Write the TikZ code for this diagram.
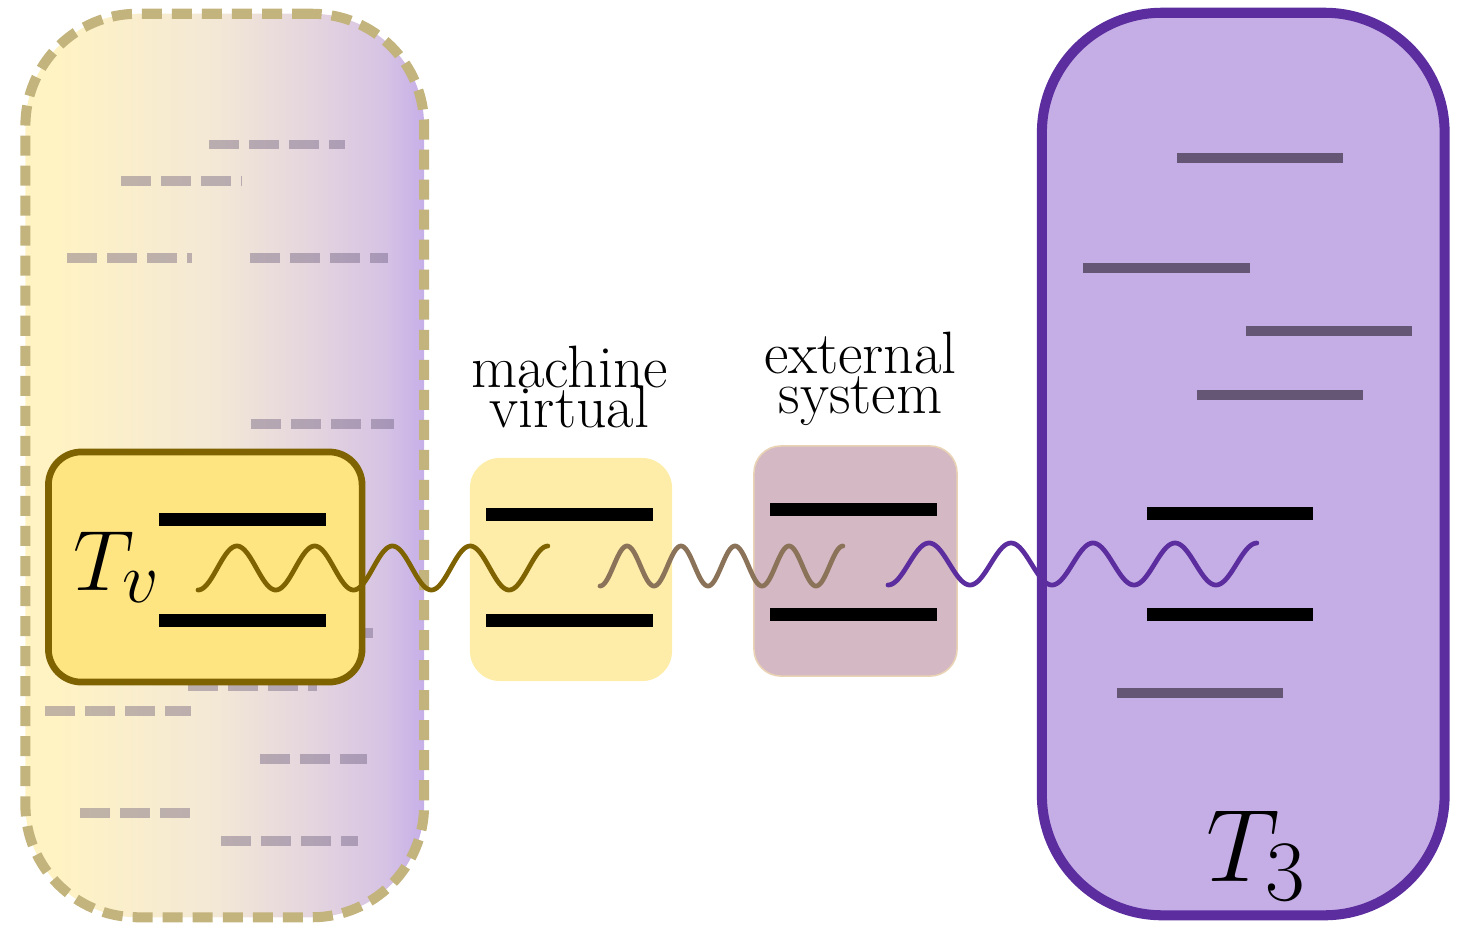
\documentclass[tikz,border=0pt]{standalone}
\usepackage{graphicx}
\definecolor{gA}{HTML}{FFF3C4}
\definecolor{gB}{HTML}{F3E8D6}
\definecolor{gC}{HTML}{E3D3DF}
\definecolor{gD}{HTML}{D6C3E4}
\definecolor{gE}{HTML}{C6AFE8}
\definecolor{khaki}{HTML}{C3B37D}
\definecolor{lineC}{HTML}{655676}
\definecolor{olive}{HTML}{7F6300}
\definecolor{tvfill}{HTML}{FEE582}
\definecolor{mvfill}{HTML}{FEEDA8}
\definecolor{esfill}{HTML}{D4B8C4}
\definecolor{esrim}{HTML}{E9D3B4}
\definecolor{tfill}{HTML}{C5AEE6}
\definecolor{tdraw}{HTML}{5B2D9E}
\definecolor{brownw}{HTML}{8B735A}
\pgfdeclarehorizontalshading{leftgrad}{100bp}{color(0bp)=(gA); color(29bp)=(gA); color(49bp)=(gB); color(62bp)=(gC); color(70bp)=(gD); color(75bp)=(gE); color(100bp)=(gE)}
\newcommand{\lstrut}{\rule{0pt}{12.4pt}}
\tikzset{
  greydash/.style={draw=lineC, draw opacity=0.4, line width=2.6pt, dash pattern=on 8.54pt off 2.85pt},
  tline/.style={draw=lineC, line width=2.85pt},
  bar/.style={draw=black, line width=3.7pt},
  wave/.style={line width=1.35pt, line cap=round},
  lbl/.style={inner sep=0pt, anchor=north, align=center, font=\fontsize{17}{0}\selectfont},
  tlbl/.style={inner sep=0pt, anchor=base west, font=\fontsize{24.88}{30}\selectfont},
  box/.style={rectangle, inner sep=0pt, outer sep=0pt}
}
\begin{document}
\begin{tikzpicture}[x=0.01cm, y=-0.01cm]
\useasboundingbox (0,0) rectangle (1467,933);

% left big box
\node[box, shade, shading=leftgrad, draw=khaki, line width=2.85pt,
      dash pattern=on 5.69pt off 2.85pt, rounded corners=1.12cm,
      minimum width=3.985cm, minimum height=9.03cm] (lbox) at (224.75,465.5) {};
\foreach \y/\a/\b in {144.5/209/345, 181/121/242, 258/67/192, 258/250/388,
                      424/251/394, 633/233/373, 686/188/317, 711/45/191,
                      759/260/367, 813/80/190, 841/221/358}
  \draw[greydash] (\a,\y) -- (\b,\y);

% Tv box
\node[box, fill=tvfill, draw=olive, line width=1.9pt, rounded corners=0.33cm,
      minimum width=3.135cm, minimum height=2.30cm] (tvbox) at (205.25,567) {};
\node[tlbl] (tv) at (73,590) {\scalebox{0.98}{$T_v$}};
\draw[bar] (159,519) -- (326,519);
\draw[bar] (159,620) -- (326,620);

% machine virtual box
\node[box, fill=mvfill, rounded corners=0.3cm,
      minimum width=2.02cm, minimum height=2.23cm] (mvbox) at (571,569.5) {};
\draw[bar] (486,514) -- (653,514);
\draw[bar] (486,620) -- (653,620);
\node[lbl] (mv) at (569.5,343.4) {\lstrut machine\\[-2.3pt]\lstrut virtual};

% external system box
\node[box, fill=esfill, draw=esrim, line width=0.45pt, rounded corners=0.27cm,
      minimum width=2.03cm, minimum height=2.30cm] (esbox) at (855.5,561) {};
\draw[bar] (770,509) -- (937,509);
\draw[bar] (770,614) -- (937,614);
\node[lbl] (es) at (860.5,329.4) {\lstrut external\\[-2.3pt]\lstrut system};

% T3 box
\node[box, fill=tfill, draw=tdraw, line width=2.85pt, rounded corners=1.2cm,
      minimum width=4.025cm, minimum height=9.02cm] (tbox) at (1243.25,464) {};
\foreach \y/\a/\b in {158/1177/1343, 268/1083/1250, 331/1246/1412,
                      395/1197/1363, 693/1117/1283}
  \draw[tline] (\a,\y) -- (\b,\y);
\draw[bar] (1147,513) -- (1313,513);
\draw[bar] (1147,614) -- (1313,614);
\node[tlbl] (t3) at (1206,881) {\scalebox{1.18}{$T_3$}};

% waves
\draw[wave, draw=olive] plot[domain=0:4.5, samples=220, smooth]
  ({198+77.78*\x},{568+22*cos(360*\x)});
\draw[wave, draw=brownw] plot[domain=0:4.5, samples=220, smooth]
  ({600+54*\x},{566+20*cos(360*\x)});
\draw[wave, draw=tdraw] plot[domain=0:4.5, samples=220, smooth]
  ({888+82*\x},{564+21*cos(360*\x)});
\end{tikzpicture}
\end{document}
